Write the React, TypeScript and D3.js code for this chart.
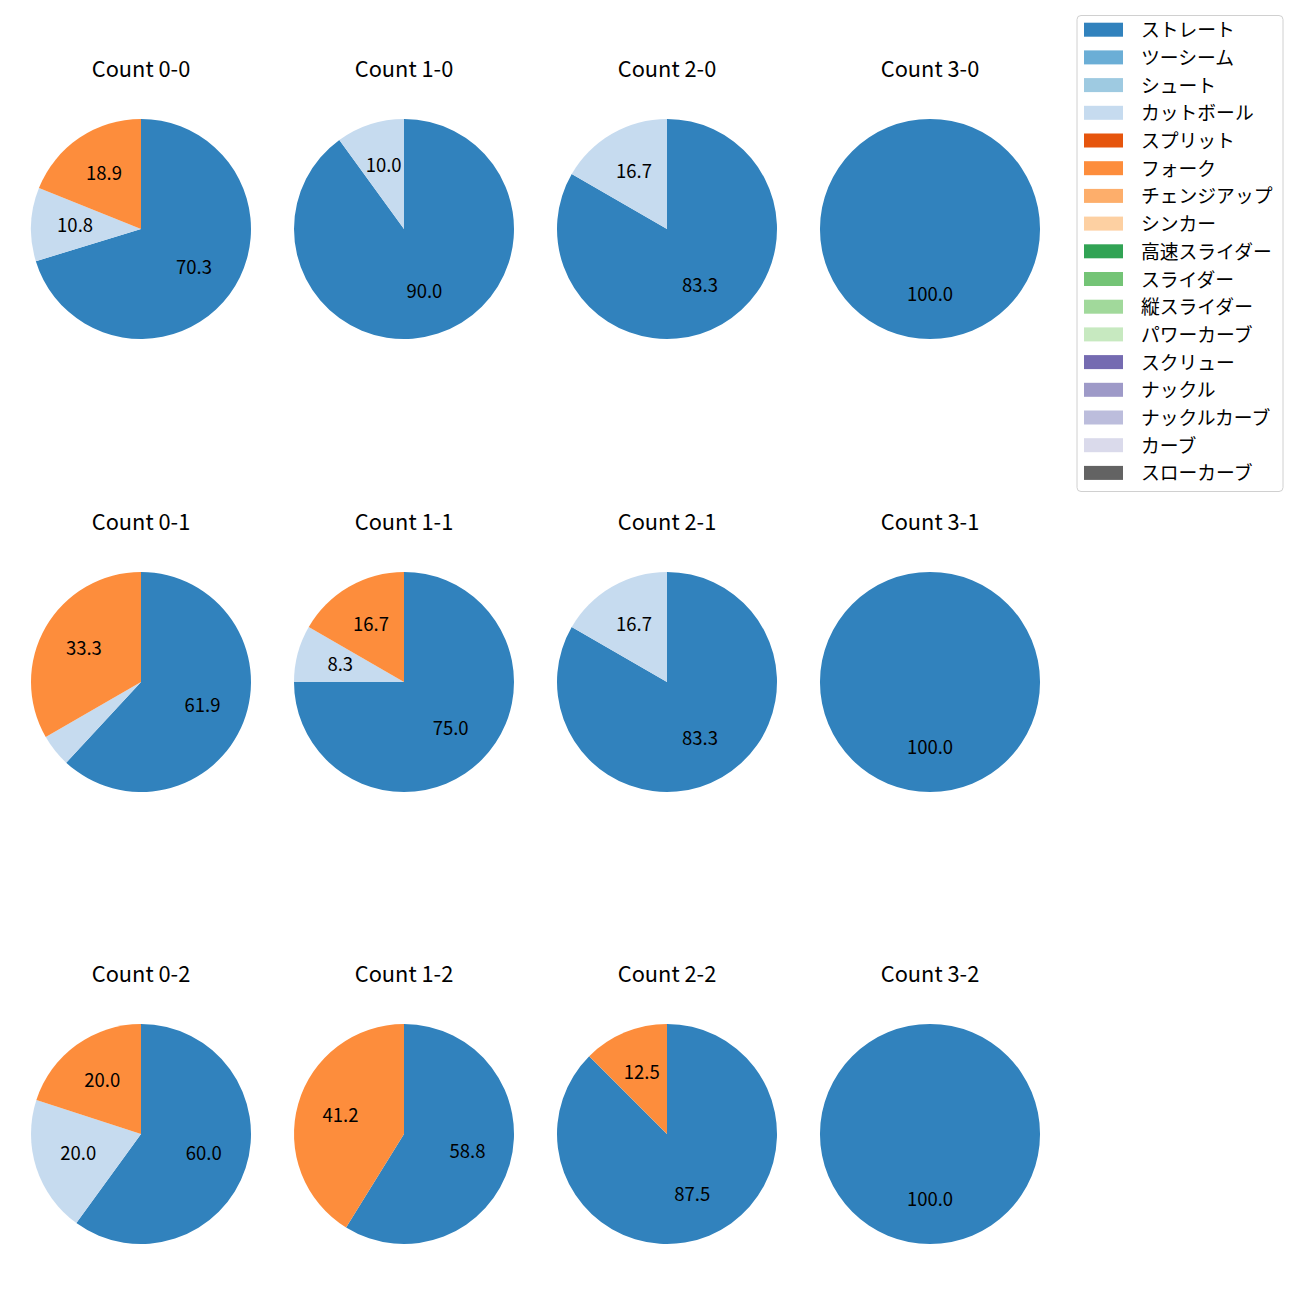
import React from "react";
import * as d3 from "d3";

const pitchTypes = [
  "ストレート", "ツーシーム", "シュート", "カットボール", "スプリット", "フォーク",
  "チェンジアップ", "シンカー", "高速スライダー", "スライダー", "縦スライダー",
  "パワーカーブ", "スクリュー", "ナックル", "ナックルカーブ", "カーブ", "スローカーブ",
];
const colors = [
  "#3182bd", "#6baed6", "#9ecae1", "#c6dbef", "#e6550d", "#fd8d3c", "#fdae6b", "#fdd0a2",
  "#31a354", "#74c476", "#a1d99b", "#c7e9c0", "#756bb1", "#9e9ac8", "#bcbddc", "#dadaeb", "#636363",
];
const countLabels = [
  "Count 0-0", "Count 1-0", "Count 2-0", "Count 3-0",
  "Count 0-1", "Count 1-1", "Count 2-1", "Count 3-1",
  "Count 0-2", "Count 1-2", "Count 2-2", "Count 3-2",
];
// pitch counts per count situation
const straightCounts = [26, 9, 5, 1, 13, 9, 5, 1, 3, 10, 7, 1];
const cutCounts = [4, 1, 1, 0, 1, 1, 1, 0, 1, 0, 0, 0];
const forkCounts = [7, 0, 0, 0, 7, 2, 0, 0, 1, 7, 1, 0];

const FONT = "'Noto Sans CJK JP', 'Noto Sans', sans-serif";

export default function App() {
  const colX = [141, 404, 667, 930];
  const rowY = [229, 682, 1134];
  const r = 110;
  const pie = d3.pie<number>().sort(null).value((d) => d).startAngle(0).endAngle(2 * Math.PI);
  const arc = d3.arc<d3.PieArcDatum<number>>().innerRadius(0).outerRadius(r);

  return (
    <svg width={1300} height={1300} style={{ position: "absolute", left: 0, top: 0 }} fontFamily={FONT}>
      <rect width={1300} height={1300} fill="#fff" />
      {countLabels.map((lab, i) => {
        const cx = colX[i % 4];
        const cy = rowY[Math.floor(i / 4)];
        const vals = pitchTypes.map(() => 0);
        vals[0] = straightCounts[i];
        vals[3] = cutCounts[i];
        vals[5] = forkCounts[i];
        const total = d3.sum(vals);
        const arcs = pie(vals);
        return (
          <g key={lab}>
            <text x={cx} y={cy - 162} textAnchor="middle" dominantBaseline="central" fontSize={21.8} fill="#000">{lab}</text>
            <g transform={`translate(${cx},${cy})`}>
              {arcs.map((a, j) =>
                a.value > 0 ? <path key={j} d={arc(a) || ""} fill={colors[j]} /> : null
              )}
              {arcs.map((a, j) => {
                const pct = (a.value / total) * 100;
                if (a.value <= 0 || pct < 5) return null;
                const mid = (a.startAngle + a.endAngle) / 2;
                const x = 0.6 * r * Math.sin(mid);
                const y = -0.6 * r * Math.cos(mid) - 2;
                return (
                  <text key={"t" + j} x={x} y={y} textAnchor="middle" dominantBaseline="central" fontSize={18.5} fill="#000">
                    {pct.toFixed(1)}
                  </text>
                );
              })}
            </g>
          </g>
        );
      })}
      <g>
        <rect x={1077} y={15.5} width={206} height={476} rx={4} fill="#fff" stroke="#d0d0d0" strokeWidth={1} />
        {pitchTypes.map((p, i) => {
          const y = 29.7 + i * 27.7;
          return (
            <g key={p}>
              <rect x={1084} y={y - 7} width={39} height={14} fill={colors[i]} />
              <text x={1141} y={y - 1} dominantBaseline="central" fontSize={18.8} fill="#000">{p}</text>
            </g>
          );
        })}
      </g>
    </svg>
  );
}
